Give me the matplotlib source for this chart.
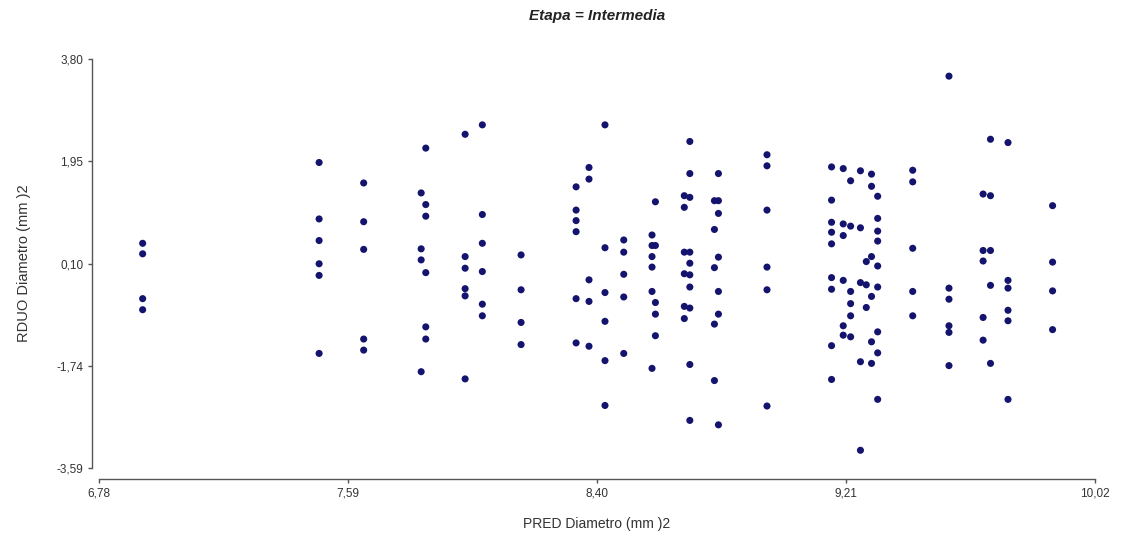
import matplotlib.pyplot as plt

plt.rcParams['font.family'] = ['Liberation Sans', 'DejaVu Sans']

# Data: predicted value (x) and residual (y)
pred = (
    [6.922] * 4
    + [7.496] * 6
    + [7.641] * 5
    + [7.828] * 4
    + [7.843] * 6
    + [7.971] * 6
    + [8.027] * 6
    + [8.153] * 4
    + [8.332] * 6
    + [8.374] * 5
    + [8.426] * 6
    + [8.487] * 5
    + [8.579] * 6
    + [8.590] * 5
    + [8.684] * 6
    + [8.702] * 10
    + [8.782] * 5
    + [8.795] * 7
    + [8.953] * 6
    + [9.163] * 9
    + [9.201] * 6
    + [9.225] * 6
    + [9.257] * 5
    + [9.276] * 3
    + [9.293] * 6
    + [9.313] * 9
    + [9.427] * 5
    + [9.545] * 6
    + [9.656] * 5
    + [9.680] * 5
    + [9.737] * 6
    + [9.882] * 4
)
resid = [
    0.47, 0.28, -0.53, -0.73,
    1.93, 0.91, 0.52, 0.10, -0.11, -1.52,
    1.56, 0.86, 0.36, -1.26, -1.46,
    1.38, 0.37, 0.17, -1.85,
    2.19, 1.17, 0.96, -0.06, -1.04, -1.26,
    2.44, 0.23, 0.02, -0.35, -0.48, -1.98,
    2.61, 0.99, 0.47, -0.04, -0.63, -0.84,
    0.26, -0.37, -0.96, -1.36,
    1.49, 1.07, 0.88, 0.68, -0.53, -1.33,
    1.84, 1.63, -0.19, -0.58, -1.39,
    2.61, 0.39, -0.42, -0.94, -1.65, -2.46,
    0.53, 0.31, -0.09, -0.50, -1.52,
    0.62, 0.43, 0.23, 0.04, -0.40, -1.79,
    1.22, 0.43, -0.60, -0.81, -1.20,
    1.33, 1.12, 0.31, -0.08, -0.67, -0.89,
    2.31, 1.73, 1.30, 0.31, 0.11, -0.10, -0.32, -0.70, -1.72, -2.73,
    1.24, 0.72, 0.03, -0.99, -2.01,
    1.73, 1.24, 1.01, 0.22, -0.40, -0.81, -2.81,
    2.07, 1.87, 1.07, 0.04, -0.37, -2.47,
    1.85, 1.25, 0.85, 0.67, 0.46, -0.15, -0.36, -1.38, -1.99,
    1.82, 0.82, 0.61, -0.20, -1.02, -1.19,
    1.60, 0.78, -0.40, -0.62, -0.84, -1.22,
    1.78, 0.75, -0.24, -1.67, -3.27,
    0.14, -0.28, -0.69,
    1.72, 1.50, 0.23, -0.49, -1.31, -1.70,
    1.32, 0.92, 0.69, 0.51, 0.06, -0.32, -1.13, -1.51, -2.35,
    1.79, 1.58, 0.38, -0.40, -0.84,
    3.49, -0.34, -0.54, -1.02, -1.14, -1.74,
    1.36, 0.34, 0.15, -0.87, -1.28,
    2.35, 1.33, 0.34, -0.29, -1.70,
    2.29, -0.20, -0.34, -0.74, -0.93, -2.35,
    1.15, 0.13, -0.39, -1.09,
]

x_ticks = [6.78, 7.59, 8.40, 9.21, 10.02]
x_tick_labels = ['6,78', '7,59', '8,40', '9,21', '10,02']
y_ticks = [-3.59, -1.74, 0.10, 1.95, 3.80]
y_tick_labels = ['-3,59', '-1,74', '0,10', '1,95', '3,80']

fig = plt.figure(figsize=(11.23, 5.34), dpi=100)
ax = fig.add_axes([99 / 1123, 1 - 468 / 534, (1095 - 99) / 1123, (468 - 59) / 534])

ax.scatter(pred, resid, s=26, color='#14146e', edgecolors='none', zorder=3)

ax.set_xlim(6.78, 10.02)
ax.set_ylim(-3.59, 3.80)
ax.set_xticks(x_ticks)
ax.set_xticklabels(x_tick_labels)
ax.set_yticks(y_ticks)
ax.set_yticklabels(y_tick_labels)

ax.spines['top'].set_visible(False)
ax.spines['right'].set_visible(False)
ax.spines['left'].set_position(('outward', 5.3))
ax.spines['bottom'].set_position(('outward', 7.9))
for side in ('left', 'bottom'):
    ax.spines[side].set_color('#555555')
    ax.spines[side].set_linewidth(1.0)
ax.tick_params(direction='out', length=3, width=1, color='#555555',
               labelsize=8.5, labelcolor='#333333', pad=3)

ax.set_xlabel('PRED Diametro (mm )2', fontsize=10, color='#333333', labelpad=13)
ax.set_ylabel('RDUO Diametro (mm )2', fontsize=10.5, color='#333333', labelpad=18)
ax.set_title('Etapa = Intermedia', fontsize=11, fontweight='bold', fontstyle='italic',
             color='#222222', pad=28)

fig.savefig('out.png', dpi=100)
